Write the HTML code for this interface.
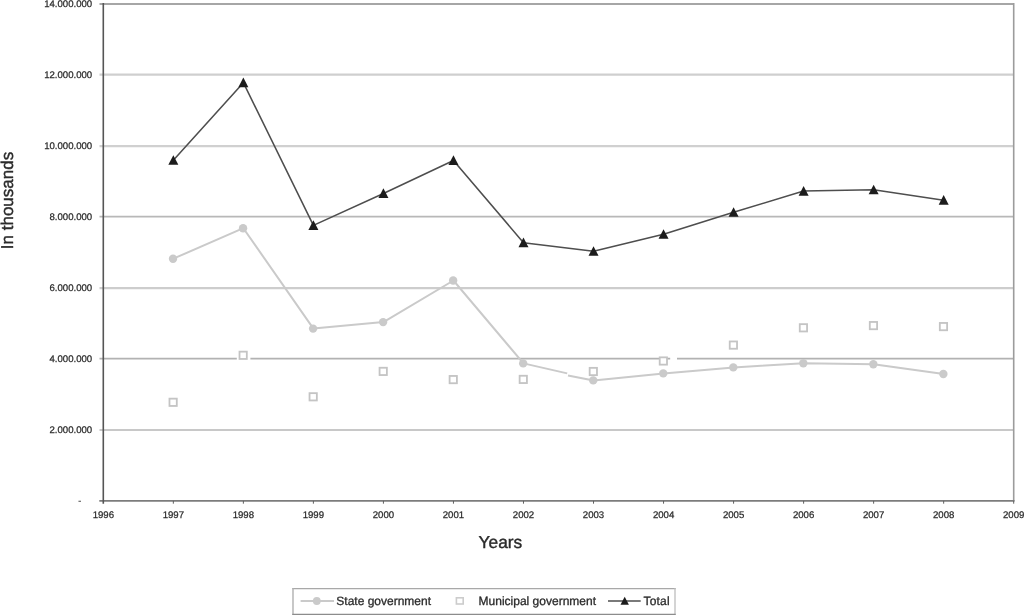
<!DOCTYPE html><html><head><meta charset="utf-8"><title>Chart</title><style>html,body{margin:0;padding:0;background:#fff;width:1024px;height:615px;overflow:hidden}svg{display:block;filter:grayscale(1) blur(0.3px)}text{font-family:"Liberation Sans",Arial,sans-serif;text-rendering:geometricPrecision}</style></head><body>
<svg width="1024" height="615" viewBox="0 0 1024 615">
<rect width="1024" height="615" fill="#fff"/>
<line x1="99.5" y1="430.00" x2="1013.7" y2="430.00" stroke="#b6b6b6" stroke-width="1.7"/>
<line x1="99.5" y1="358.65" x2="1013.7" y2="358.65" stroke="#b2b2b2" stroke-width="1.7"/>
<line x1="99.5" y1="288.20" x2="1013.7" y2="288.20" stroke="#cdcdcd" stroke-width="2.2"/>
<line x1="99.5" y1="216.60" x2="1013.7" y2="216.60" stroke="#b8b8b8" stroke-width="1.7"/>
<line x1="99.5" y1="146.20" x2="1013.7" y2="146.20" stroke="#d0d0d0" stroke-width="2.2"/>
<line x1="99.5" y1="74.60" x2="1013.7" y2="74.60" stroke="#cfcfcf" stroke-width="2.3"/>
<line x1="99.5" y1="4.00" x2="1013.7" y2="4.00" stroke="#a6a6a6" stroke-width="1.8"/>
<line x1="1013.70" y1="3.10" x2="1013.70" y2="500.90" stroke="#9c9c9c" stroke-width="1.6"/>
<line x1="99.3" y1="500.90" x2="1014.50" y2="500.90" stroke="#7c7c7c" stroke-width="1.8"/>
<line x1="103.30" y1="3.10" x2="103.30" y2="503.7" stroke="#555555" stroke-width="1.6"/>
<line x1="173.33" y1="500.90" x2="173.33" y2="503.7" stroke="#606060" stroke-width="1"/>
<line x1="243.36" y1="500.90" x2="243.36" y2="503.7" stroke="#606060" stroke-width="1"/>
<line x1="313.39" y1="500.90" x2="313.39" y2="503.7" stroke="#606060" stroke-width="1"/>
<line x1="383.42" y1="500.90" x2="383.42" y2="503.7" stroke="#606060" stroke-width="1"/>
<line x1="453.45" y1="500.90" x2="453.45" y2="503.7" stroke="#606060" stroke-width="1"/>
<line x1="523.48" y1="500.90" x2="523.48" y2="503.7" stroke="#606060" stroke-width="1"/>
<line x1="593.52" y1="500.90" x2="593.52" y2="503.7" stroke="#606060" stroke-width="1"/>
<line x1="663.55" y1="500.90" x2="663.55" y2="503.7" stroke="#606060" stroke-width="1"/>
<line x1="733.58" y1="500.90" x2="733.58" y2="503.7" stroke="#606060" stroke-width="1"/>
<line x1="803.61" y1="500.90" x2="803.61" y2="503.7" stroke="#606060" stroke-width="1"/>
<line x1="873.64" y1="500.90" x2="873.64" y2="503.7" stroke="#606060" stroke-width="1"/>
<line x1="943.67" y1="500.90" x2="943.67" y2="503.7" stroke="#606060" stroke-width="1"/>
<line x1="1013.70" y1="500.90" x2="1013.70" y2="503.7" stroke="#606060" stroke-width="1"/>
<text x="92.2" y="432.57" font-size="9.6" text-anchor="end" fill="#2b2b2b" stroke="#2b2b2b" stroke-width="0.25">2.000.000</text>
<text x="92.2" y="361.64" font-size="9.6" text-anchor="end" fill="#2b2b2b" stroke="#2b2b2b" stroke-width="0.25">4.000.000</text>
<text x="92.2" y="290.71" font-size="9.6" text-anchor="end" fill="#2b2b2b" stroke="#2b2b2b" stroke-width="0.25">6.000.000</text>
<text x="92.2" y="219.79" font-size="9.6" text-anchor="end" fill="#2b2b2b" stroke="#2b2b2b" stroke-width="0.25">8.000.000</text>
<text x="92.2" y="148.86" font-size="9.6" text-anchor="end" fill="#2b2b2b" stroke="#2b2b2b" stroke-width="0.25">10.000.000</text>
<text x="92.2" y="77.93" font-size="9.6" text-anchor="end" fill="#2b2b2b" stroke="#2b2b2b" stroke-width="0.25">12.000.000</text>
<text x="92.2" y="7.00" font-size="9.6" text-anchor="end" fill="#2b2b2b" stroke="#2b2b2b" stroke-width="0.25">14.000.000</text>
<text x="78.1" y="503.50" font-size="10.5" fill="#2b2b2b">-</text>
<text x="103.30" y="518.2" font-size="9.6" text-anchor="middle" fill="#2b2b2b" stroke="#2b2b2b" stroke-width="0.25">1996</text>
<text x="173.33" y="518.2" font-size="9.6" text-anchor="middle" fill="#2b2b2b" stroke="#2b2b2b" stroke-width="0.25">1997</text>
<text x="243.36" y="518.2" font-size="9.6" text-anchor="middle" fill="#2b2b2b" stroke="#2b2b2b" stroke-width="0.25">1998</text>
<text x="313.39" y="518.2" font-size="9.6" text-anchor="middle" fill="#2b2b2b" stroke="#2b2b2b" stroke-width="0.25">1999</text>
<text x="383.42" y="518.2" font-size="9.6" text-anchor="middle" fill="#2b2b2b" stroke="#2b2b2b" stroke-width="0.25">2000</text>
<text x="453.45" y="518.2" font-size="9.6" text-anchor="middle" fill="#2b2b2b" stroke="#2b2b2b" stroke-width="0.25">2001</text>
<text x="523.48" y="518.2" font-size="9.6" text-anchor="middle" fill="#2b2b2b" stroke="#2b2b2b" stroke-width="0.25">2002</text>
<text x="593.52" y="518.2" font-size="9.6" text-anchor="middle" fill="#2b2b2b" stroke="#2b2b2b" stroke-width="0.25">2003</text>
<text x="663.55" y="518.2" font-size="9.6" text-anchor="middle" fill="#2b2b2b" stroke="#2b2b2b" stroke-width="0.25">2004</text>
<text x="733.58" y="518.2" font-size="9.6" text-anchor="middle" fill="#2b2b2b" stroke="#2b2b2b" stroke-width="0.25">2005</text>
<text x="803.61" y="518.2" font-size="9.6" text-anchor="middle" fill="#2b2b2b" stroke="#2b2b2b" stroke-width="0.25">2006</text>
<text x="873.64" y="518.2" font-size="9.6" text-anchor="middle" fill="#2b2b2b" stroke="#2b2b2b" stroke-width="0.25">2007</text>
<text x="943.67" y="518.2" font-size="9.6" text-anchor="middle" fill="#2b2b2b" stroke="#2b2b2b" stroke-width="0.25">2008</text>
<text x="1013.70" y="518.2" font-size="9.6" text-anchor="middle" fill="#2b2b2b" stroke="#2b2b2b" stroke-width="0.25">2009</text>
<text x="500.4" y="547.7" font-size="17.3" text-anchor="middle" fill="#2b2b2b" stroke="#2b2b2b" stroke-width="0.4">Years</text>
<text transform="translate(13.0 200.5) rotate(-90)" x="0" y="0" font-size="17.0" text-anchor="middle" fill="#2b2b2b" stroke="#2b2b2b" stroke-width="0.4">In thousands</text>
<rect x="236.8" y="356.5" width="13.6" height="4.5" fill="#fff"/>
<rect x="670.2" y="356.5" width="6.8" height="4.5" fill="#fff"/>
<polyline points="173.33,258.70 243.36,228.20 313.39,328.60 383.42,322.10 453.45,280.50 523.48,363.40 567.2,373.4" fill="none" stroke="#cacaca" stroke-width="2" stroke-linejoin="round"/>
<polyline points="568.0,375.4 593.52,380.40 663.55,373.40 733.58,367.40 803.61,363.20 873.64,364.20 943.67,374.00" fill="none" stroke="#cacaca" stroke-width="2" stroke-linejoin="round"/>
<circle cx="173.03" cy="258.70" r="4.2" fill="#cacaca"/>
<circle cx="243.06" cy="228.20" r="4.2" fill="#cacaca"/>
<circle cx="313.09" cy="328.60" r="4.2" fill="#cacaca"/>
<circle cx="383.12" cy="322.10" r="4.2" fill="#cacaca"/>
<circle cx="453.15" cy="280.50" r="4.2" fill="#cacaca"/>
<circle cx="523.18" cy="363.40" r="4.2" fill="#cacaca"/>
<circle cx="593.22" cy="380.40" r="4.2" fill="#cacaca"/>
<circle cx="663.25" cy="373.40" r="4.2" fill="#cacaca"/>
<circle cx="733.28" cy="367.40" r="4.2" fill="#cacaca"/>
<circle cx="803.31" cy="363.20" r="4.2" fill="#cacaca"/>
<circle cx="873.34" cy="364.20" r="4.2" fill="#cacaca"/>
<circle cx="943.37" cy="374.00" r="4.2" fill="#cacaca"/>
<rect x="169.48" y="398.65" width="7.3" height="7.3" fill="#fff" stroke="#c4c4c4" stroke-width="1.8"/>
<rect x="239.51" y="351.65" width="7.3" height="7.3" fill="#fff" stroke="#c4c4c4" stroke-width="1.8"/>
<rect x="309.54" y="393.15" width="7.3" height="7.3" fill="#fff" stroke="#c4c4c4" stroke-width="1.8"/>
<rect x="379.57" y="367.75" width="7.3" height="7.3" fill="#fff" stroke="#c4c4c4" stroke-width="1.8"/>
<rect x="449.60" y="375.95" width="7.3" height="7.3" fill="#fff" stroke="#c4c4c4" stroke-width="1.8"/>
<rect x="519.63" y="375.75" width="7.3" height="7.3" fill="#fff" stroke="#c4c4c4" stroke-width="1.8"/>
<rect x="589.67" y="367.85" width="7.3" height="7.3" fill="#fff" stroke="#c4c4c4" stroke-width="1.8"/>
<rect x="659.70" y="357.35" width="7.3" height="7.3" fill="#fff" stroke="#c4c4c4" stroke-width="1.8"/>
<rect x="729.73" y="341.45" width="7.3" height="7.3" fill="#fff" stroke="#c4c4c4" stroke-width="1.8"/>
<rect x="799.76" y="324.15" width="7.3" height="7.3" fill="#fff" stroke="#c4c4c4" stroke-width="1.8"/>
<rect x="869.79" y="321.95" width="7.3" height="7.3" fill="#fff" stroke="#c4c4c4" stroke-width="1.8"/>
<rect x="939.82" y="322.95" width="7.3" height="7.3" fill="#fff" stroke="#c4c4c4" stroke-width="1.8"/>
<polyline points="173.33,160.30 243.36,82.70 313.39,225.40 383.42,193.50 453.45,160.50 523.48,242.70 593.52,251.30 663.55,234.30 733.58,212.30 803.61,191.10 873.64,189.80 943.67,200.20" fill="none" stroke="#4e4e4e" stroke-width="1.55" stroke-linejoin="round"/>
<polygon points="173.33,155.15 178.33,164.85 168.33,164.85" fill="#1c1c1c"/>
<polygon points="243.36,77.55 248.36,87.25 238.36,87.25" fill="#1c1c1c"/>
<polygon points="313.39,220.25 318.39,229.95 308.39,229.95" fill="#1c1c1c"/>
<polygon points="383.42,188.35 388.42,198.05 378.42,198.05" fill="#1c1c1c"/>
<polygon points="453.45,155.35 458.45,165.05 448.45,165.05" fill="#1c1c1c"/>
<polygon points="523.48,237.55 528.48,247.25 518.48,247.25" fill="#1c1c1c"/>
<polygon points="593.52,246.15 598.52,255.85 588.52,255.85" fill="#1c1c1c"/>
<polygon points="663.55,229.15 668.55,238.85 658.55,238.85" fill="#1c1c1c"/>
<polygon points="733.58,207.15 738.58,216.85 728.58,216.85" fill="#1c1c1c"/>
<polygon points="803.61,185.95 808.61,195.65 798.61,195.65" fill="#1c1c1c"/>
<polygon points="873.64,184.65 878.64,194.35 868.64,194.35" fill="#1c1c1c"/>
<polygon points="943.67,195.05 948.67,204.75 938.67,204.75" fill="#1c1c1c"/>
<rect x="293" y="588.7" width="382" height="25.6" fill="#fff"/>
<line x1="292.3" y1="588.7" x2="675.7" y2="588.7" stroke="#a8a8a8" stroke-width="1.3"/>
<line x1="293" y1="588.1" x2="293" y2="615" stroke="#b0b0b0" stroke-width="1.4"/>
<line x1="675" y1="588.1" x2="675" y2="615" stroke="#bdbdbd" stroke-width="1.3"/>
<line x1="292.3" y1="614.4" x2="675.7" y2="614.4" stroke="#8c8c8c" stroke-width="1.3"/>
<line x1="300.6" y1="601" x2="334" y2="601" stroke="#cacaca" stroke-width="2"/>
<circle cx="316.8" cy="601" r="3.9" fill="#cacaca"/>
<text x="336.3" y="605.3" font-size="12" fill="#2b2b2b" stroke="#2b2b2b" stroke-width="0.3">State government</text>
<rect x="456.4" y="597.8" width="6.8" height="6.2" fill="#fff" stroke="#cccccc" stroke-width="1.6"/>
<text x="478.6" y="605.3" font-size="12" fill="#2b2b2b" stroke="#2b2b2b" stroke-width="0.3">Municipal government</text>
<line x1="608" y1="601" x2="640.7" y2="601" stroke="#4e4e4e" stroke-width="1.7"/>
<polygon points="624.70,596.80 628.90,604.80 620.50,604.80" fill="#1c1c1c"/>
<text x="643.6" y="605.3" font-size="12" fill="#2b2b2b" stroke="#2b2b2b" stroke-width="0.3" textLength="26.0">Total</text>
</svg></body></html>
